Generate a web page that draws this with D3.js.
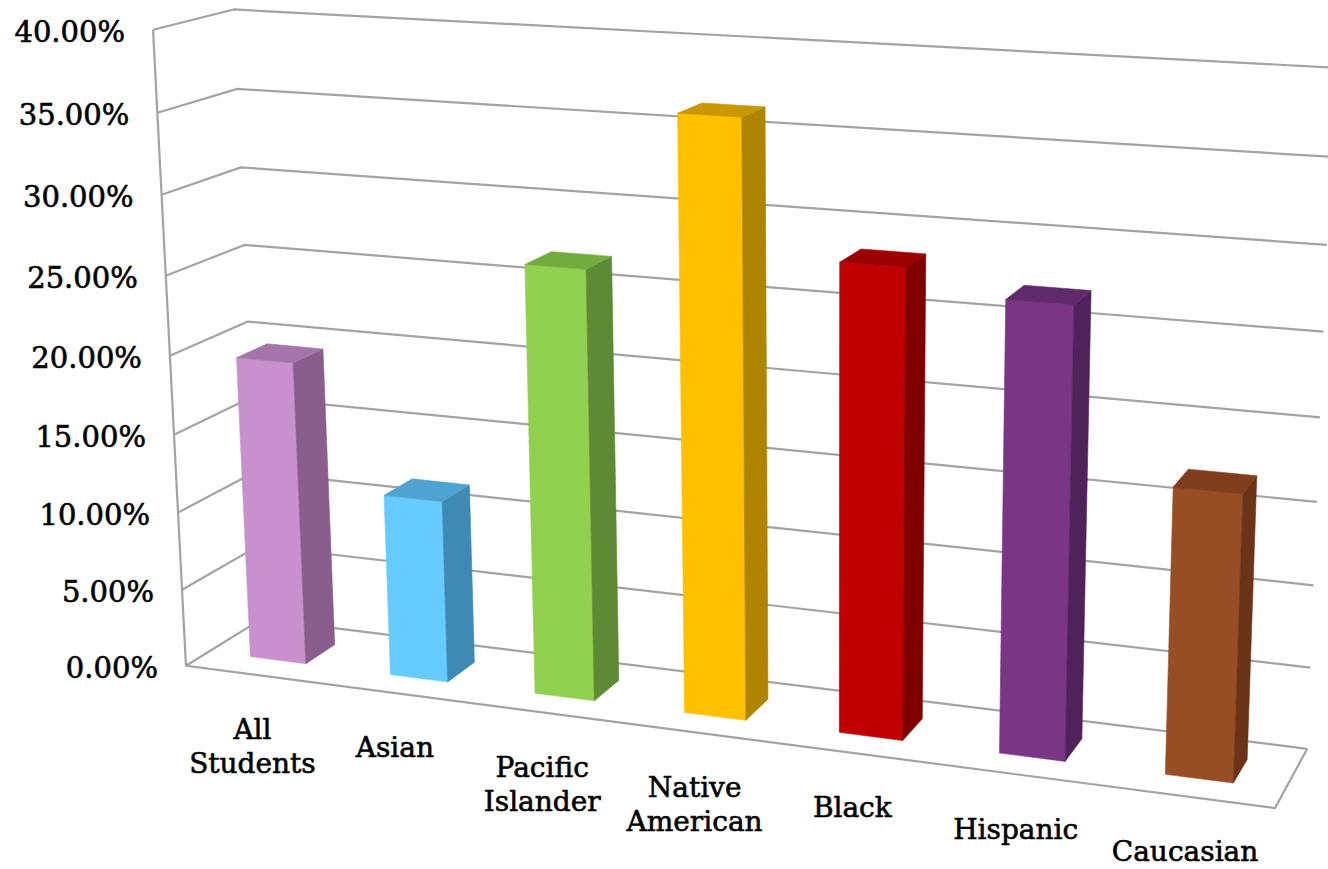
<!DOCTYPE html>
<html>
<head>
<meta charset="utf-8">
<script src="https://cdn.jsdelivr.net/npm/d3@7"></script>
<style>
  body { margin: 0; background: #fff; }
  svg { display: block; }
  text { font-family: "DejaVu Serif", serif; fill: #000; stroke: #000; stroke-width: 0.6px; }
</style>
</head>
<body>
<svg id="chart" width="1328" height="869"></svg>
<script>
// Share of students by group (percent)
const categories = ["All Students", "Asian", "Pacific Islander", "Native American", "Black", "Hispanic", "Caucasian"];
const rates = [19.45, 11.6, 26.8, 36.4, 28.4, 27.0, 17.05];
const yTicks = [0, 5, 10, 15, 20, 25, 30, 35, 40];

// Face colours per bar: front, right side, top
const frontColors = ["#C890CC", "#66CCFF", "#92D050", "#FFC000", "#C00000", "#7A3585", "#974E25"];
const sideColors  = ["#895E8C", "#3F8AB4", "#5F8A35", "#AF8400", "#800000", "#4F235A", "#6B3418"];
const topColors   = ["#A574AA", "#4FA3D0", "#74AB3F", "#C99800", "#9C0000", "#612A6D", "#7F3D1C"];

// Camera: where corners of the unit plot box (x across groups, y up, z into the page)
// land on screen. A pinhole projection is fitted through them.
const boxCorners = [
  [0, 0,   0, 184.3, 666.0],
  [0, 1,   0, 152.7,  30.0],
  [0, 1,   1, 233.0,   9.3],
  [0, 0.5, 1, 248.0, 322.0],
  [0, 0.5, 0, 172.0, 355.0],
  [0, 0,   1, 262.0, 619.0],
  [1, 0,   1, 1307.3, 748.3],
  [1, 0,   0, 1275.0, 808.3],
  [1, 0.5, 1, 1320.0, 418.0],
  [1, 1,   1, 1333.6,  67.3]
];

function fitCamera(pts) {
  const cx = 664, cy = 434, s = 664, n = 11;
  const M = Array.from({length: n}, () => new Array(n + 1).fill(0));
  const addRow = (row, rhs) => {
    for (let i = 0; i < n; i++) {
      for (let j = 0; j < n; j++) M[i][j] += row[i] * row[j];
      M[i][n] += row[i] * rhs;
    }
  };
  pts.forEach(([X, Y, Z, u, v]) => {
    const un = (u - cx) / s, vn = (v - cy) / s;
    addRow([X, Y, Z, 1, 0, 0, 0, 0, -un * X, -un * Y, -un * Z], un);
    addRow([0, 0, 0, 0, X, Y, Z, 1, -vn * X, -vn * Y, -vn * Z], vn);
  });
  for (let c = 0; c < n; c++) {
    let p = c;
    for (let r = c + 1; r < n; r++) if (Math.abs(M[r][c]) > Math.abs(M[p][c])) p = r;
    [M[c], M[p]] = [M[p], M[c]];
    for (let r = 0; r < n; r++) {
      if (r === c) continue;
      const f = M[r][c] / M[c][c];
      for (let k = c; k <= n; k++) M[r][k] -= f * M[c][k];
    }
  }
  const q = M.map((row, i) => row[n] / row[i]);
  return (X, Y, Z) => {
    const w = q[8] * X + q[9] * Y + q[10] * Z + 1;
    return [cx + s * (q[0] * X + q[1] * Y + q[2] * Z + q[3]) / w,
            cy + s * (q[4] * X + q[5] * Y + q[6] * Z + q[7]) / w];
  };
}
const project = fitCamera(boxCorners);

// Scales into the unit box
const x = d3.scaleBand().domain(categories).range([0, 1]).paddingInner(0.6).paddingOuter(0.3);
const y = d3.scaleLinear().domain([0, 40]).range([0, 1]);
const zFront = 0.3, zBack = 0.7;

const svg = d3.select("#chart");
const line = d3.line();

// Walls: gridlines bend from the side wall onto the back wall
const grid = svg.append("g").attr("fill", "none").attr("stroke", "#A3A3A3").attr("stroke-width", 2.2)
  .attr("stroke-linejoin", "round");
grid.selectAll("path.grid").data(yTicks).join("path").attr("class", "grid")
  .attr("d", t => line([project(0, y(t), 0), project(0, y(t), 1), project(1, y(t), 1)]));
// Side wall front edge and floor outline
grid.append("path").attr("d", line([project(0, y(40), 0), project(0, 0, 0)]));
grid.append("path").attr("d", line([project(0, 0, 0), project(1, 0, 0), project(1, 0, 1)]));

// Tick labels along the front edge of the side wall
const fmt = d3.format(".2f");
svg.append("g").selectAll("text").data(yTicks).join("text")
  .attr("x", t => project(0, y(t), 0)[0] - 28)
  .attr("y", t => project(0, y(t), 0)[1] + 2)
  .attr("text-anchor", "end").attr("dominant-baseline", "central")
  .attr("font-size", 29)
  .text(t => fmt(t) + "%");

// Bars as boxes; only faces turned toward the viewer are painted
const faceDefs = [
  {name: "front",  v: [[0,0,0],[0,1,0],[1,1,0],[1,0,0]]},
  {name: "back",   v: [[0,0,1],[1,0,1],[1,1,1],[0,1,1]]},
  {name: "left",   v: [[0,0,0],[0,0,1],[0,1,1],[0,1,0]]},
  {name: "right",  v: [[1,0,0],[1,1,0],[1,1,1],[1,0,1]]},
  {name: "bottom", v: [[0,0,0],[1,0,0],[1,0,1],[0,0,1]]},
  {name: "top",    v: [[0,1,0],[0,1,1],[1,1,1],[1,1,0]]}
];
const area = pts => d3.polygonArea(pts);

const bars = svg.append("g");
categories.forEach((c, i) => {
  const xs = [x(c), x(c) + x.bandwidth()];
  const ys = [y(0), y(rates[i])];
  const zs = [zFront, zBack];
  const polys = faceDefs.map(f => ({
    name: f.name,
    pts: f.v.map(([a, b, d]) => project(xs[a], ys[b], zs[d]))
  }));
  const frontSign = Math.sign(area(polys[0].pts));
  const colorOf = {front: frontColors[i], right: sideColors[i], left: sideColors[i],
                   top: topColors[i], bottom: topColors[i], back: sideColors[i]};
  const g = bars.append("g").attr("class", "bar");
  polys.filter(p => Math.sign(area(p.pts)) === frontSign).forEach(p => {
    g.append("path").attr("d", line(p.pts) + "Z")
      .attr("fill", colorOf[p.name]).attr("stroke", colorOf[p.name]).attr("stroke-width", 0.6)
      .attr("stroke-linejoin", "round");
  });
});

// Group labels below the front edge of the floor
const labels = svg.append("g").attr("text-anchor", "middle").attr("font-size", 28);
categories.forEach(c => {
  const [px, py] = project(x(c) + x.bandwidth() / 2, 0, 0);
  const t = labels.append("text").attr("x", px - 3).attr("y", py + 64);
  c.split(" ").forEach((w, k) => {
    t.append("tspan").attr("x", px - 3).attr("dy", k === 0 ? 0 : 34).text(w);
  });
});
</script>
</body>
</html>
